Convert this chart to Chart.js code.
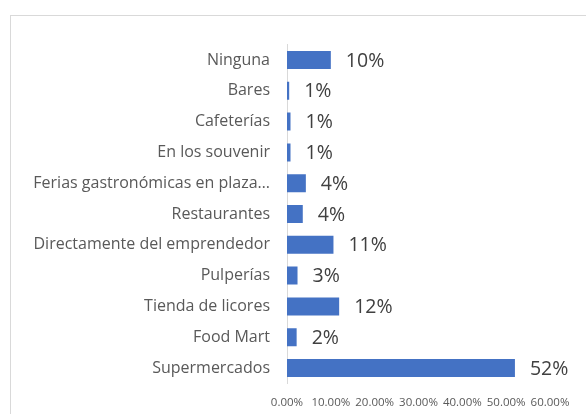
<!DOCTYPE html>
<html>
<head>
<meta charset="utf-8">
<script src="https://cdn.jsdelivr.net/npm/chart.js@4.4.0/dist/chart.umd.min.js"></script>
<style>
  html, body { margin: 0; padding: 0; background: #fff; }
  #wrap { position: relative; width: 586px; height: 414px; overflow: hidden; }
  #frame { position: absolute; left: 10px; top: 15px; width: 700px; height: 500px; border-left: 1px solid #d9d9d9; border-top: 1px solid #d9d9d9; box-sizing: border-box; }
  canvas { position: absolute; left: 0; top: 0; }
</style>
</head>
<body>
<div id="wrap">
  <div id="frame"></div>
  <canvas id="c" width="586" height="414"></canvas>
</div>
<script>
const categories = ["Ninguna", "Bares", "Cafeterías", "En los souvenir", "Ferias gastronómicas en plaza…", "Restaurantes", "Directamente del emprendedor", "Pulperías", "Tienda de licores", "Food Mart", "Supermercados"];
const values = [10.0, 0.5, 0.8, 0.8, 4.3, 3.6, 10.6, 2.4, 11.9, 2.2, 52.0];
const valueLabels = ["10%", "1%", "1%", "1%", "4%", "4%", "11%", "3%", "12%", "2%", "52%"];
const xTicks = ["0.00%", "10.00%", "20.00%", "30.00%", "40.00%", "50.00%", "60.00%"];

const FONT = "'Open Sans', 'Noto Sans', sans-serif";

const valueLabelPlugin = {
  id: 'valueLabels',
  afterDatasetsDraw(chart) {
    const ctx = chart.ctx;
    const meta = chart.getDatasetMeta(0);
    ctx.save();
    ctx.font = "19.5px " + FONT;
    ctx.fillStyle = "#404040";
    ctx.textAlign = "left";
    ctx.textBaseline = "middle";
    meta.data.forEach((bar, i) => {
      ctx.fillText(valueLabels[i], bar.x + 15, bar.y + 1);
    });
    ctx.restore();
  }
};

new Chart(document.getElementById('c'), {
  type: 'bar',
  data: {
    labels: categories,
    datasets: [{
      data: values,
      backgroundColor: '#4472C4',
      borderWidth: 0,
      barPercentage: 0.585,
      categoryPercentage: 1.0
    }]
  },
  options: {
    indexAxis: 'y',
    responsive: false,
    animation: false,
    devicePixelRatio: 1,
    layout: { padding: { top: 44.6, right: 36, bottom: 5, left: 0 } },
    plugins: { legend: { display: false }, tooltip: { enabled: false } },
    scales: {
      x: {
        min: 0, max: 60,
        grid: { display: false, drawTicks: false },
        border: { display: false },
        ticks: {
          stepSize: 10,
          padding: 12,
          color: '#595959',
          font: { family: FONT, size: 11.5 },
          maxRotation: 0,
          autoSkip: false,
          callback: (v, i) => xTicks[i]
        },
        afterFit(scale) { scale.height = 25.6; }
      },
      y: {
        grid: { display: false, drawTicks: false },
        border: { display: true, color: '#d9d9d9', width: 1 },
        ticks: {
          padding: 17,
          color: '#595959',
          font: { family: FONT, size: 16 },
          autoSkip: false
        },
        afterFit(scale) { scale.width = 287; }
      }
    }
  },
  plugins: [valueLabelPlugin]
});
</script>
</body>
</html>
